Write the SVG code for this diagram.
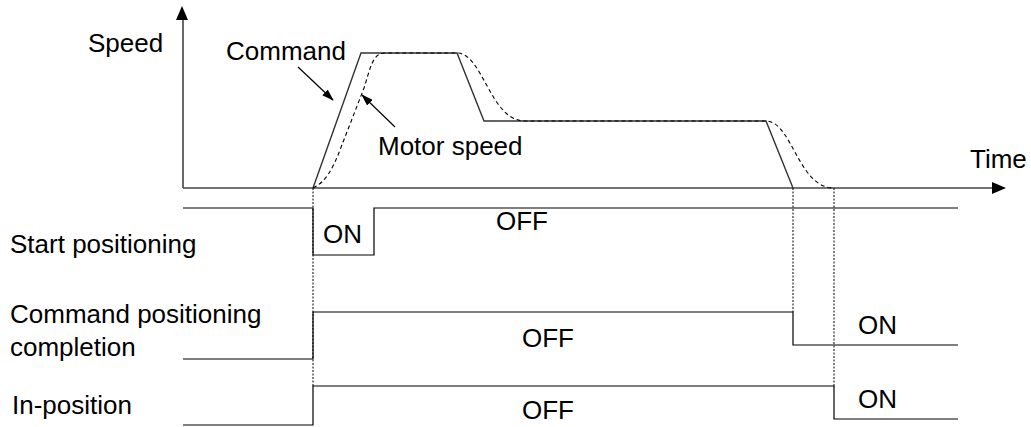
<svg xmlns="http://www.w3.org/2000/svg" width="1031" height="427" viewBox="0 0 1031 427">
<style>
text{font-family:"Liberation Sans",Arial,sans-serif;font-size:26px;fill:#000}
.ax{stroke:#444;stroke-width:1.6;fill:none}
.cmd{stroke:#333;stroke-width:1.4;fill:none}
.mot{stroke:#000;stroke-width:1.1;fill:none;stroke-dasharray:4 3}
.sig{stroke:#000;stroke-width:1.2;fill:none}
.dot{stroke:#000;stroke-width:1;fill:none;stroke-dasharray:2 1.5}
.lead{stroke:#000;stroke-width:1.2;fill:none}
.head{fill:#000}
</style>
<defs>
<marker id="ah" viewBox="0 0 12 8" refX="11" refY="4" markerWidth="12" markerHeight="8" markerUnits="userSpaceOnUse" orient="auto">
<path d="M0,0 L12,4 L0,8 Z" class="head"/>
</marker>
</defs>
<g id="axes">
<line class="ax" x1="183" y1="188" x2="183" y2="18"/>
<path class="head" d="M182,6 L176,20 L188,20 Z"/>
<line class="ax" x1="183" y1="188" x2="993" y2="188"/>
<path class="head" d="M1006,188 L992,182 L992,194 Z"/>
<text id="t-speed" x="88" y="52">Speed</text>
<text id="t-time" x="970" y="168">Time</text>
</g>
<g id="command-speed">
<polyline class="cmd" points="313,188 361,53 457,53 484,121 766,121 793,188"/>
<text x="226" y="60">Command</text>
</g>
<g id="motor-speed">
<path class="mot" d="M313,188 C326,182 333,168 340,150 L364,88 C370,70 372,53 385,53 L457,53 C483,53 490,121 525,121 L766,121 C792,121 798,188 834,188"/>
<text x="378" y="155">Motor speed</text>
</g>
<g id="connectors">
<line class="lead" x1="298" y1="67" x2="333" y2="100" marker-end="url(#ah)"/>
<line class="lead" x1="395" y1="127" x2="362" y2="95" marker-end="url(#ah)"/>
<line class="dot" x1="313" y1="188" x2="313" y2="386"/>
<line class="dot" x1="793" y1="188" x2="793" y2="312"/>
<line class="dot" x1="834" y1="188" x2="834" y2="386"/>
</g>
<g id="start-positioning">
<polyline class="sig" points="183,208 313,208 313,255 374,255 374,208 958,208"/>
<text x="10" y="253">Start positioning</text>
<text x="323" y="243">ON</text>
<text x="496" y="230">OFF</text>
</g>
<g id="command-positioning-completion">
<polyline class="sig" points="183,359 313,359 313,312 793,312 793,345 958,345"/>
<text x="10" y="323">Command positioning</text>
<text x="10" y="356">completion</text>
<text x="522" y="347">OFF</text>
<text x="858" y="334">ON</text>
</g>
<g id="in-position">
<polyline class="sig" points="183,425 313,425 313,386 834,386 834,419 958,419"/>
<text x="12" y="414">In-position</text>
<text x="522" y="419">OFF</text>
<text x="858" y="408">ON</text>
</g>
</svg>
